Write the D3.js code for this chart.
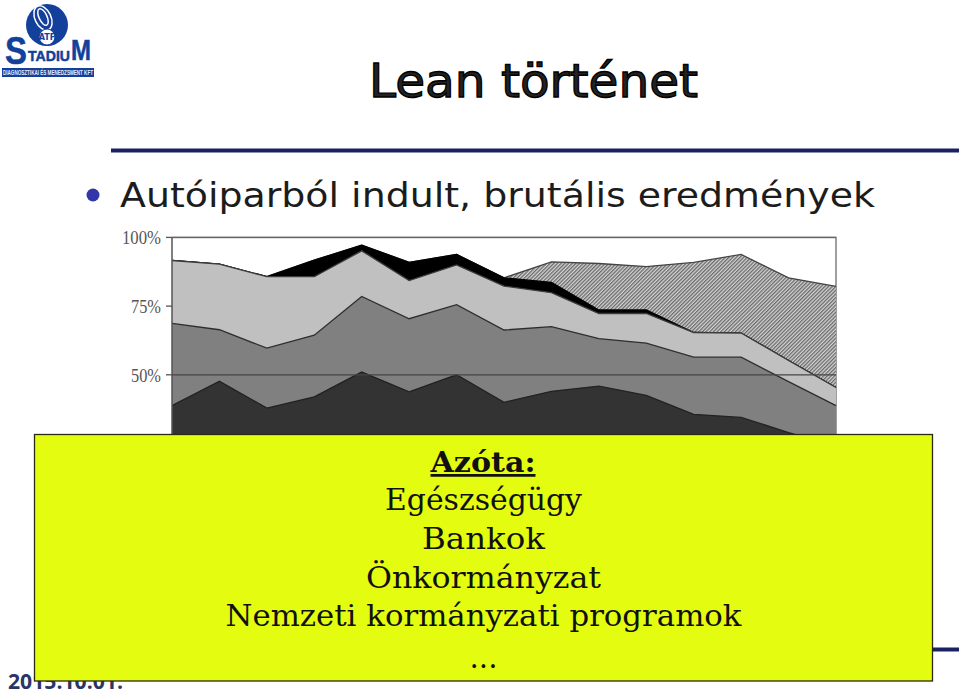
<!DOCTYPE html>
<html><head><meta charset="utf-8">
<script src="https://cdn.jsdelivr.net/npm/d3@7"></script>
<style>html,body{margin:0;padding:0;background:#fff;overflow:hidden}svg{display:block}</style>
</head><body><svg id="c" width="959" height="692"></svg>
<script>
const categories = [1,2,3,4,5,6,7,8,9,10,11,12,13,14,15];
const darkTop   = [38.8,47.7,37.9,42.0,51.0,43.8,50.0,40.0,44.0,45.9,42.5,35.6,34.5,29.0,24.0];
const midTop    = [68.7,66.4,59.7,64.4,78.5,70.4,75.5,66.3,67.5,63.2,61.5,56.4,56.4,47.5,38.8];
const lightTop  = [91.6,90.3,85.7,85.7,95.1,84.3,90.0,82.3,79.9,72.3,72.3,65.4,65.2,55.2,45.4];
const blackTop  = [91.6,90.3,85.7,91.7,97.2,90.9,93.8,85.3,83.6,73.6,73.6,65.4,65.2,55.2,45.4];
const hatchTop  = [91.6,90.3,85.7,91.7,97.2,90.9,93.8,85.3,91.1,90.5,89.4,90.9,93.8,85.3,82.2];
const yTicks = [100,75,50];
const boxLines = ["Egészségügy","Bankok","Önkormányzat","Nemzeti kormányzati programok","..."];

const svg = d3.select("#c");
const defs = svg.append("defs");
const pat = defs.append("pattern").attr("id","hatch").attr("width",2.6).attr("height",2.6)
  .attr("patternUnits","userSpaceOnUse").attr("patternTransform","rotate(-45)");
pat.append("rect").attr("width",2.6).attr("height",2.6).attr("fill","#d4d4d4");
pat.append("rect").attr("width",2.6).attr("height",1.3).attr("fill","#6a6a6a");

const x = d3.scalePoint().domain(categories).range([172,836]);
const y = d3.scaleLinear().domain([0,100]).range([512.2,237.4]);
const area = d3.area().x((d,i)=>x(categories[i])).y0(y(0)).y1(d=>y(d));
const line = d3.line().x((d,i)=>x(categories[i])).y(d=>y(d));

const g = svg.append("g");
g.append("path").attr("d",`M172,${y(100)}H836V${y(0)}`).attr("fill","none").attr("stroke","#808080").attr("stroke-width",1.5);

const layers = [
 {v:hatchTop,f:"url(#hatch)",s:"#444"},
 {v:blackTop,f:"#000",s:"#000"},
 {v:lightTop,f:"#c0c0c0",s:"#3c3c3c"},
 {v:midTop,f:"#808080",s:"#2e2e2e"},
 {v:darkTop,f:"#333333",s:"#222"}
];
layers.forEach(l=>{
  g.append("path").datum(l.v).attr("d",area).attr("fill",l.f);
  g.append("path").datum(l.v).attr("d",line).attr("fill","none").attr("stroke",l.s).attr("stroke-width",1.3);
});
g.append("line").attr("x1",172).attr("x2",172).attr("y1",y(100)).attr("y2",y(0)).attr("stroke","#555").attr("stroke-width",1.5);
g.append("line").attr("x1",172).attr("x2",836).attr("y1",y(50)).attr("y2",y(50)).attr("stroke","#444").attr("stroke-width",1.2);
g.append("line").attr("x1",172).attr("x2",836).attr("y1",y(100)).attr("y2",y(100)).attr("stroke","#666").attr("stroke-width",1.3);
yTicks.forEach(t=>{
  g.append("line").attr("x1",166).attr("x2",172).attr("y1",y(t)).attr("y2",y(t)).attr("stroke","#555").attr("stroke-width",1.3);
  g.append("text").attr("x",161).attr("y",y(t)+7).attr("text-anchor","end")
   .attr("font-family","Liberation Serif").attr("font-size",18).attr("fill","#555")
   .attr("textLength",t===100?39:30).attr("lengthAdjust","spacingAndGlyphs").text(t+"%");
});

// title + rules
svg.append("text").attr("x",369).attr("y",97).attr("font-family","DejaVu Sans").attr("font-size",47)
  .attr("textLength",329).attr("lengthAdjust","spacingAndGlyphs")
  .attr("fill","#222").attr("stroke","#000").attr("stroke-width",1.3).text("Lean történet");
svg.append("line").attr("x1",111).attr("x2",959).attr("y1",150.5).attr("y2",150.5).attr("stroke","#1a2060").attr("stroke-width",4);
svg.append("line").attr("x1",925).attr("x2",959).attr("y1",649.5).attr("y2",649.5).attr("stroke","#1a2060").attr("stroke-width",4);
svg.append("circle").attr("cx",93).attr("cy",195).attr("r",6.5).attr("fill","#3236a8");
svg.append("text").attr("x",120).attr("y",207).attr("font-family","DejaVu Sans").attr("font-size",34)
  .attr("textLength",755).attr("lengthAdjust","spacingAndGlyphs").attr("fill","#1c1c1c").text("Autóiparból indult, brutális eredmények");

// date
svg.append("text").attr("x",8).attr("y",689).attr("font-family","Open Sans").attr("font-weight",700).attr("font-size",21)
  .attr("textLength",115).attr("lengthAdjust","spacingAndGlyphs").attr("fill","#2a3565").text("2015.10.01.");

// logo
const logo = svg.append("g");
const blue="#12409a";
logo.append("circle").attr("cx",47).attr("cy",25).attr("r",21).attr("fill",blue);
[[43,17,4,9,1.5],[43,18,8,13,1.5]].forEach(e=>{
  logo.append("ellipse").attr("cx",e[0]).attr("cy",e[1]).attr("rx",e[2]).attr("ry",e[3])
    .attr("transform",`rotate(-25 ${e[0]} ${e[1]})`).attr("fill","none").attr("stroke","#fff").attr("stroke-width",e[4]);
});
logo.append("circle").attr("cx",47).attr("cy",37).attr("r",8).attr("fill","#fff").attr("stroke",blue).attr("stroke-width",1.2);
logo.append("text").attr("x",47).attr("y",40).attr("text-anchor","middle").attr("font-family","DejaVu Sans").attr("font-weight",700).attr("font-size",8).attr("fill",blue).text("ATF");
const letter=(t,xx,yy,fs,w)=>logo.append("text").attr("x",xx).attr("y",yy).attr("font-family","Liberation Sans").attr("font-weight",700)
  .attr("font-size",fs).attr("textLength",w).attr("lengthAdjust","spacingAndGlyphs").attr("fill",blue).attr("stroke",blue).attr("stroke-width",0.5).text(t);
letter("S",5,64,38,22);
letter("TADIU",28,61,15,42);
letter("M",71,60,30,20);
logo.append("rect").attr("x",2).attr("y",68).attr("width",92).attr("height",9).attr("fill",blue);
logo.append("text").attr("x",3).attr("y",75).attr("font-family","Liberation Sans").attr("font-weight",700).attr("font-size",6.5)
  .attr("textLength",90).attr("lengthAdjust","spacingAndGlyphs").attr("fill","#e8ecff").text("DIAGNOSZTIKAI ÉS MENEDZSMENT KFT");

// yellow box
svg.append("rect").attr("x",34.5).attr("y",434.5).attr("width",898).attr("height",246.5)
  .attr("fill","#e4fc10").attr("stroke","#2a2a10").attr("stroke-width",1.3);
const serif="DejaVu Serif";
svg.append("text").attr("x",483).attr("y",472).attr("text-anchor","middle").attr("font-family",serif)
  .attr("font-weight",700).attr("font-size",27.5).attr("textLength",105).attr("lengthAdjust","spacingAndGlyphs")
  .attr("text-decoration","underline").attr("fill","#111").text("Azóta:");
const baselines=[510,549,588,626,668];
const widths=[197,123,235,516,28];
boxLines.forEach((t,i)=>{
  svg.append("text").attr("x",483.5).attr("y",baselines[i]).attr("text-anchor","middle").attr("font-family",serif)
    .attr("font-size",29.5).attr("textLength",widths[i]).attr("lengthAdjust","spacingAndGlyphs").attr("fill","#111").text(t);
});
</script></body></html>
